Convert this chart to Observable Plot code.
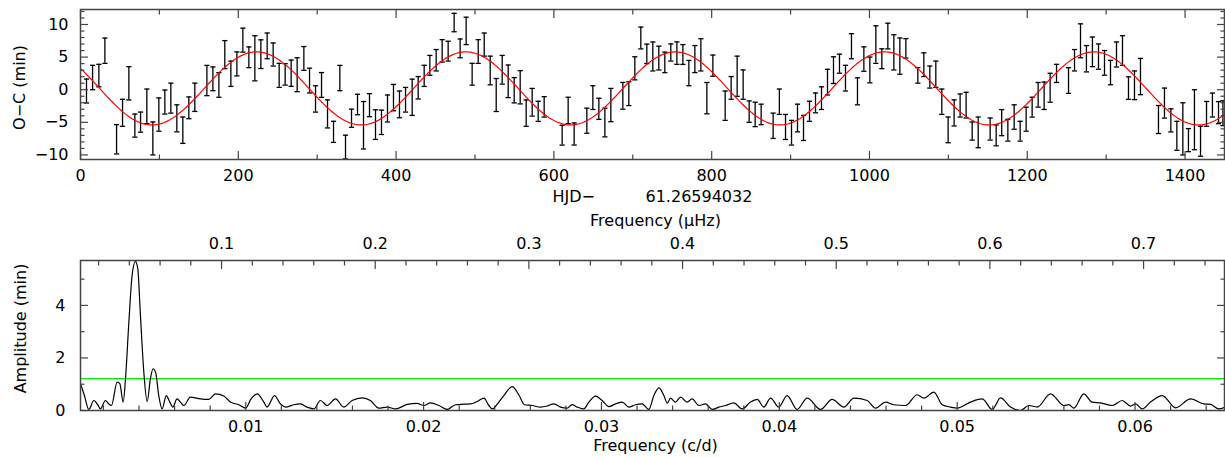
<!DOCTYPE html>
<html><head><meta charset="utf-8">
<script src="https://cdn.jsdelivr.net/npm/d3@7"></script>
<script src="https://cdn.jsdelivr.net/npm/@observablehq/plot@0.6"></script>
<style>
html,body{margin:0;padding:0;background:#fff;}
#chart{width:1225px;height:457px;overflow:hidden;position:relative;}
#chart svg{display:block;}
</style></head><body><div id="chart"></div>
<script>
// ---------- O-C data (days, minutes) ----------
const obsTime = [7.6,15.3,23.3,30.9,45.7,53.3,61.3,68.9,76.1,84.1,91.7,99.3,106.9,114.5,122.1,129.7,137.3,144.9,160.2,167.8,175.4,182.9,190.6,198.2,205.8,213.4,221.0,228.6,236.6,244.2,251.8,259.4,267.0,274.6,283.1,290.3,
297.9,305.5,313.1,320.7,328.7,335.9,343.5,351.1,358.7,366.3,373.9,381.5,389.1,396.7,404.3,412.0,420.4,428.0,435.6,442.8,450.8,458.4,466.0,473.6,481.2,488.8,496.4,504.1,511.7,519.3,526.9,534.5,542.1,549.7,557.3,564.9,572.5,580.1,
587.7,610.5,618.1,625.7,641.8,649.4,657.0,664.6,672.2,687.4,695.0,702.6,710.2,717.8,725.4,733.0,740.6,748.2,755.9,763.5,771.1,778.7,786.3,793.9,801.5,817.1,824.7,832.3,839.9,847.5,855.1,862.7,
877.9,885.8,893.6,901.2,908.8,916.4,924.0,931.6,939.2,946.8,954.4,962.0,969.6,977.2,984.8,992.9,1000.5,1008.1,1015.7,1023.3,1030.9,1038.5,1046.1,1061.3,1068.9,1076.5,1084.1,1091.7,1099.7,1107.3,1114.9,1122.5,1130.2,1137.8,1153.0,1160.6,1167.6,
1175.4,1183.4,1191.0,1198.6,1206.2,1213.8,1221.4,1229.0,1237.1,1252.3,1259.9,1267.5,1275.0,1282.6,1290.3,1297.9,1305.5,1313.1,1320.7,1328.3,1335.9,1343.5,1366.3,1373.9,1382.0,1389.6,1397.2,1404.3,1411.9,1419.6,1427.2,1434.7,1442.4,1448.0];
const obsOC = [-0.2,1.87,2.17,5.98,-7.6,-3.54,0.98,-5.5,-4.97,-2.55,-7.47,-3.81,-1.89,-1.29,-4.39,-6.21,-2.78,-1.16,1.41,1.67,0.73,5.38,2.45,3.96,7.6,4.97,4.82,5.45,6.72,5.4,2.2,2.35,2.53,2.3,4.8,1.4,
-1.41,0.73,-3.71,-6.46,1.79,-8.79,-4.37,-2.27,-5.45,-2.37,-5.35,-5.0,-2.88,-1.21,-2.25,-1.54,-1.16,0.3,2.12,3.74,4.52,5.96,5.91,10.3,6.34,9.02,2.37,5.86,6.92,2.95,-0.81,3.06,1.29,-0.08,0.38,-3.59,-1.92,-3.31,
-2.63,-6.97,-3.18,-6.79,-4.75,-1.21,-2.93,-5.03,-2.35,-0.93,-0.61,3.28,7.93,5.5,5.1,4.85,4.19,5.71,5.61,5.4,2.55,4.7,5.35,-1.29,3.69,-2.45,0.28,2.07,0.78,-3.36,-3.79,-3.79,
-5.53,-1.84,-5.71,-6.59,-4.34,-5.86,-3.31,-2.02,-1.29,1.16,3.0,3.99,1.77,6.67,-0.25,4.7,3.03,6.92,4.75,8.23,5.73,5.15,6.34,2.2,3.84,1.94,2.37,-1.84,-6.16,-3.56,-2.42,-2.37,-6.34,-6.54,-6.03,-7.0,-5.05,
-6.21,-4.19,-6.36,-4.52,-2.68,-0.78,-0.93,0.3,2.5,1.41,4.52,7.5,4.75,5.81,5.08,4.12,2.63,5.4,6.01,0.25,0.68,2.02,-4.57,-2.05,-4.7,-7.07,-6.0,-7.73,-4.6,-7.9,-3.7,-2.35,-3.51,-3.6];
const obsErr = [1.84,1.87,1.72,1.94,2.25,2.07,2.55,1.77,1.54,2.65,2.53,2.55,1.84,2.3,2.07,2.02,1.67,2.17,2.32,1.82,1.89,2.15,1.94,1.84,1.84,1.59,3.46,2.2,1.97,1.77,1.84,1.64,2.02,2.6,1.82,1.9,
2.02,1.9,2.15,1.62,1.94,1.82,1.39,1.57,3.64,1.77,2.27,1.87,2.07,2.02,2.05,1.89,2.78,1.72,1.62,1.52,1.64,1.72,1.52,1.41,1.44,2.1,1.67,1.82,1.77,2.2,2.53,2.2,2.5,1.94,2.55,2.02,2.12,1.54,
1.57,1.52,2.02,1.69,1.92,1.82,1.62,2.2,2.55,2.05,1.82,1.77,1.67,1.49,2.22,1.82,1.57,1.31,1.72,1.52,1.94,2.07,2.47,2.4,1.62,2.25,1.74,3.08,2.25,1.64,1.87,1.57,
1.94,1.94,1.92,1.89,2.12,1.92,1.54,1.52,1.74,1.97,2.05,1.46,1.97,1.92,2.07,1.87,1.97,2.88,1.52,1.97,2.7,2.78,1.49,1.19,1.82,1.69,2.02,1.94,1.97,2.0,1.77,1.97,1.39,2.35,1.69,1.6,2.0,
1.67,1.87,1.52,1.84,1.52,1.89,2.1,2.22,1.39,1.97,1.64,2.6,2.02,2.27,1.94,1.89,1.87,1.92,2.27,1.72,2.2,2.78,2.15,2.3,1.77,2.22,4.0,1.77,4.6,2.3,1.9,1.84,1.69,1.9];

// ---------- sinusoidal fit parameters ----------
const fitAmplitude = 5.6;   // min
const fitPeriod = 265.3;    // d
const fitEpoch = 223.2;     // time of maximum
const fitOffset = 0.2;      // min

// ---------- amplitude spectrum ----------
const specFreq = [0.00071,0.00093,0.00118,0.00146,0.00168,0.00183,0.00211,0.0023,0.00245,0.00277,0.00292,0.00311,0.00324,0.00343,0.00361,0.0038,0.00393,0.00408,0.00427,0.00446,0.00464,0.00479,0.00493,0.00511,0.0053,0.00553,0.00573,0.0059,0.00614,0.00633,0.00652,0.00689,0.00746,0.00792,0.0083,0.00877,0.00914,0.00961,0.00999,0.0103,0.01064,0.01102,0.0112,0.01162,0.01195,0.01224,0.0127,0.01308,0.01345,0.01383,
0.0142,0.01458,0.01505,0.01551,0.01598,0.01655,0.01701,0.01748,0.01795,0.01842,0.01908,0.01964,0.02001,0.02039,0.02086,0.02133,0.02179,0.02226,0.02264,0.02301,0.02339,0.02367,0.02386,0.02414,0.02451,0.02498,0.02535,0.02567,0.0261,0.02657,0.02695,0.02732,0.0277,0.02807,0.02835,0.02863,0.02901,0.02929,0.02967,0.03004,0.03042,0.03079,0.03117,0.03154,0.03191,0.03229,0.03266,0.03295,0.03323,0.03351,0.0337,0.03388,0.03416,0.03445,0.03482,0.0351,0.03548,0.03585,0.03623,0.0366,0.03698,0.03744,0.03791,0.03838,0.03876,0.03913,
0.03951,0.03997,0.04044,0.041,0.04157,0.04232,0.04297,0.04363,0.04419,0.04494,0.04541,0.04597,0.04644,0.0471,0.04775,0.04813,0.04869,0.04916,0.04963,0.05,0.05075,0.05141,0.05197,0.05244,0.053,0.05356,0.05403,0.0545,0.05525,0.056,0.05628,0.05656,0.05712,0.05759,0.05806,0.05872,0.05928,0.05975,0.06003,0.0604,0.06087,0.06153,0.06228,0.06312,0.06387,0.06425,0.06471,0.06509];
const specAmp = [1.02,0.57,0.04,0.38,0.22,0.06,0.38,0.25,0.19,1.08,1.02,0.32,1.21,3.37,5.14,5.68,5.4,3.62,1.46,0.34,1.21,1.59,1.46,0.57,0.06,0.57,0.32,0.13,0.44,0.32,0.19,0.51,0.44,0.42,0.63,0.55,0.32,0.22,0.09,0.44,0.63,0.32,0.13,0.57,0.25,0.13,0.22,0.25,0.13,0.06,
0.38,0.19,0.44,0.13,0.38,0.48,0.38,0.09,0.13,0.06,0.23,0.27,0.19,0.29,0.19,0.04,0.22,0.24,0.25,0.34,0.47,0.19,0.06,0.24,0.57,0.91,0.6,0.22,0.19,0.13,0.17,0.25,0.13,0.09,0.22,0.13,0.06,0.32,0.55,0.38,0.15,0.25,0.32,0.13,0.22,0.25,0.04,0.57,0.86,0.57,0.28,0.47,0.32,0.51,0.32,0.44,0.19,0.25,0.04,0.13,0.19,0.29,0.06,0.32,0.42,0.13,
0.47,0.13,0.57,0.04,0.47,0.04,0.42,0.13,0.47,0.38,0.09,0.32,0.22,0.19,0.6,0.47,0.7,0.22,0.13,0.09,0.32,0.44,0.04,0.48,0.13,0.0,0.19,0.13,0.63,0.19,0.22,0.09,0.63,0.32,0.29,0.19,0.38,0.17,0.25,0.06,0.32,0.57,0.1,0.44,0.25,0.23,0.06,0.13];
const significance = 1.21;  // min

// ---------- tick values ----------
const hjdTicksMajor = [0,200,400,600,800,1000,1200,1400];
const hjdTicksMinor = [100,300,500,700,900,1100,1300];
const ocTicksMajor = [-10,-5,0,5,10];
const ocTicksMinor = [-9,-8,-7,-6,-4,-3,-2,-1,1,2,3,4,6,7,8,9,11,12];
const cdTicksMajor = [0.01,0.02,0.03,0.04,0.05,0.06];
const cdTicksMinor = [0.002,0.004,0.006,0.008,0.012,0.014,0.016,0.018,0.022,0.024,0.026,0.028,0.032,0.034,0.036,0.038,0.042,0.044,0.046,0.048,0.052,0.054,0.056,0.058,0.062,0.064];
const muHzTicksMajor = [0.1,0.2,0.3,0.4,0.5,0.6,0.7];
const muHzTicksMinor = [0.02,0.04,0.06,0.08,0.12,0.14,0.16,0.18,0.22,0.24,0.26,0.28,0.32,0.34,0.36,0.38,0.42,0.44,0.46,0.48,0.52,0.54,0.56,0.58,0.62,0.64,0.66,0.68,0.72,0.74];
const ampTicksMajor = [0,2,4];
const ampTicksMinor = [1,3,5];
const cdPerMuHz = 0.0864;

// ---------- build tables ----------
const obs = obsTime.map((t, i) => ({t, oc: obsOC[i], err: obsErr[i]}));
const fitCurve = d3.range(0, 1451, 2).map(t => ({t, oc: fitOffset + fitAmplitude * Math.cos(2 * Math.PI * (t - fitEpoch) / fitPeriod)}));
const spec = specFreq.map((f, i) => ({f, a: specAmp[i]}));

const fmt = d => (d < 0 ? "\u2212" + Math.abs(d) : String(d));
const AX = "#444";
const FONT = {fontFamily: "DejaVu Sans", fontSize: "16px", background: "white", color: "black", overflow: "visible"};
const capSymbol = {draw(ctx, size) { const r = Math.sqrt(size / Math.PI); ctx.moveTo(-r, 0); ctx.lineTo(r, 0); }};

function tickAxes(kind, anchor, major, minor, labelFmt, pad, majLen = 8, minLen = 4.5) {
  const A = kind === "x" ? Plot.axisX : Plot.axisY;
  return [
    A({anchor, ticks: major, tickSize: -majLen, tickPadding: pad, tickFormat: labelFmt || (() => ""), label: null, stroke: AX, strokeWidth: 1.2, fill: "black"}),
    A({anchor, ticks: minor, tickSize: -minLen, tickPadding: 0, tickFormat: () => "", label: null, stroke: AX, strokeWidth: 1.2})
  ];
}
const title = (txt, opts) => Plot.text([txt], {textAnchor: "middle", lineAnchor: "middle", fill: "black", ...opts});

// ---------- top panel ----------
const topPlot = Plot.plot({
  width: 1225, height: 200,
  marginLeft: 80, marginRight: 1, marginTop: 9, marginBottom: 41,
  style: FONT,
  x: {domain: [0, 1450], axis: null},
  y: {domain: [-10.7, 12.3], axis: null},
  marks: [
    Plot.ruleX(obs, {x: "t", y1: d => d.oc - d.err, y2: d => d.oc + d.err, stroke: "black", strokeWidth: 1.3, clip: true}),
    Plot.dot(obs, {x: "t", y: d => d.oc - d.err, symbol: capSymbol, r: 2.6, stroke: "black", fill: "none", strokeWidth: 1.3, clip: true}),
    Plot.dot(obs, {x: "t", y: d => d.oc + d.err, symbol: capSymbol, r: 2.6, stroke: "black", fill: "none", strokeWidth: 1.3, clip: true}),
    Plot.line(fitCurve, {x: "t", y: "oc", stroke: "#ff0000", strokeWidth: 1.2, clip: true}),
    ...tickAxes("x", "bottom", hjdTicksMajor, hjdTicksMinor, d => String(d), 18),
    ...tickAxes("x", "top", hjdTicksMajor, hjdTicksMinor, null, 0),
    ...tickAxes("y", "left", ocTicksMajor, ocTicksMinor, fmt, 20),
    ...tickAxes("y", "right", ocTicksMajor, ocTicksMinor, null, 0),
    Plot.frame({stroke: AX, strokeWidth: 1.5}),
    title("O\u2212C (min)", {frameAnchor: "left", dx: -61, dy: 3, rotate: -90}),
    title("HJD\u2212", {frameAnchor: "bottom-left", dx: 472, dy: 37, textAnchor: "start"}),
    title("61.26594032", {frameAnchor: "bottom-left", dx: 565, dy: 37, textAnchor: "start"})
  ]
});

// ---------- bottom panel ----------
const bottomPlot = Plot.plot({
  width: 1225, height: 257,
  marginLeft: 80, marginRight: 1, marginTop: 60, marginBottom: 47,
  style: FONT,
  x: {domain: [0.00071, 0.06503], axis: null},
  y: {domain: [0, 5.71], axis: null},
  marks: [
    Plot.ruleY([significance], {stroke: "#00ee00", strokeWidth: 1.2}),
    Plot.line(spec, {x: "f", y: "a", curve: "monotone-x", stroke: "black", strokeWidth: 1.2, clip: true}),
    ...tickAxes("x", "bottom", cdTicksMajor, cdTicksMinor, d => String(d), 18),
    ...tickAxes("x", "top", muHzTicksMajor.map(v => v * cdPerMuHz), muHzTicksMinor.map(v => v * cdPerMuHz), d => (d / cdPerMuHz).toFixed(1), 20),
    ...tickAxes("y", "left", ampTicksMajor, ampTicksMinor, d => String(d), 23),
    ...tickAxes("y", "right", ampTicksMajor, ampTicksMinor, null, 0),
    Plot.frame({stroke: AX, strokeWidth: 1.5}),
    title("Frequency (\u03bcHz)", {frameAnchor: "top-left", dx: 575, dy: -40}),
    title("Frequency (c/d)", {frameAnchor: "bottom-left", dx: 575, dy: 35}),
    title("Amplitude (min)", {frameAnchor: "left", dx: -60, dy: -7, rotate: -90})
  ]
});

const el = document.getElementById("chart");
el.appendChild(topPlot);
el.appendChild(bottomPlot);
</script>
</body></html>
